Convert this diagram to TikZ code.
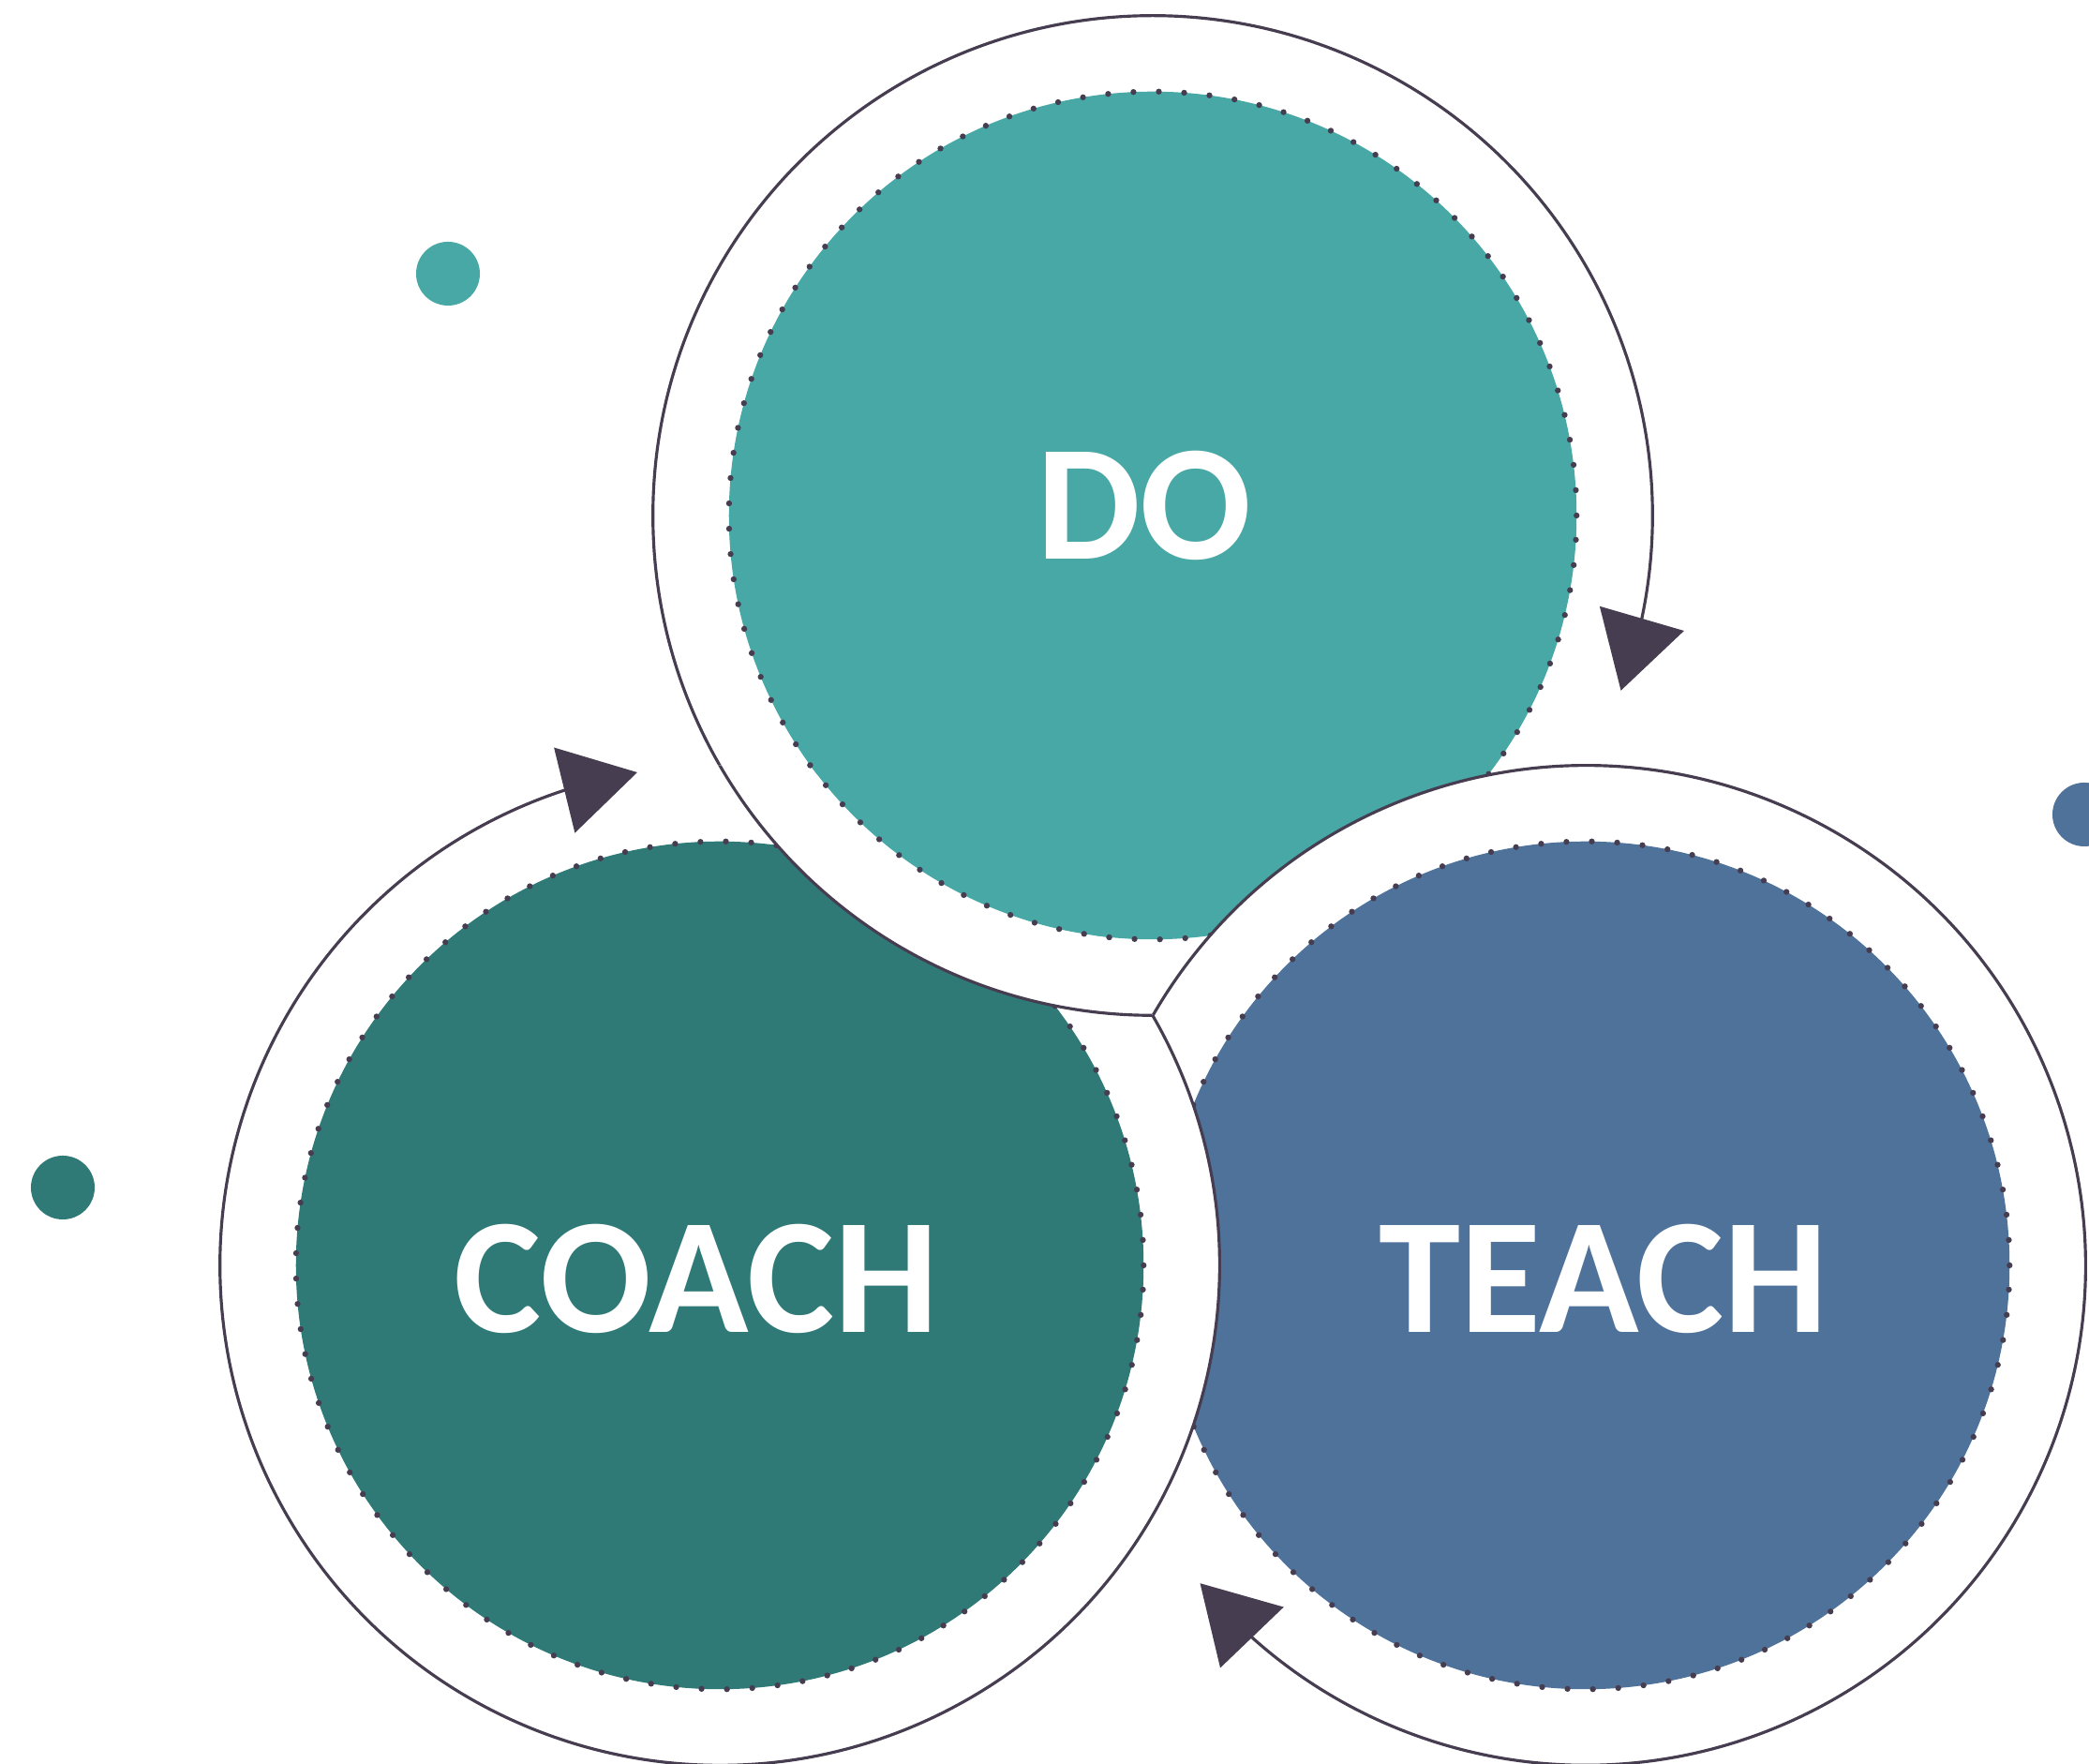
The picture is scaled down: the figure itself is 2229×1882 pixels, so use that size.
\documentclass[tikz,border=0pt]{standalone}
\usepackage{fontspec}
\setmainfont{Carlito}
\usepackage{xcolor}
\usetikzlibrary{arrows.meta,bending,calc}

\definecolor{dofill}{HTML}{48A8A6}
\definecolor{coachfill}{HTML}{2F7A77}
\definecolor{teachfill}{HTML}{4F729A}
\definecolor{edge}{HTML}{473D51}

\begin{document}
\begin{tikzpicture}[
  x=0.01cm, y=0.01cm,
  halo/.style={circle, fill=white, minimum size=10.66cm, inner sep=0pt, outer sep=0pt},
  dots/.style={draw=edge, line width=1.8pt, line cap=round, dash pattern=on 0pt off 7.7pt},
  disc/.style={circle, dots, minimum size=9.04cm, inner sep=0pt, outer sep=0pt},
  word/.style={font=\bfseries\fontsize{50}{50}\selectfont, text=white, inner sep=0pt},
  ringarr/.style={draw=edge, line width=0.9pt, -{Triangle[length=0.8cm, width=0.93cm]}},
  spot/.style={circle, minimum size=0.68cm, inner sep=0pt},
]
  \useasboundingbox (0,0) rectangle (2229,1882);

  % small spots around the cycle
  \node[spot, fill=dofill] (spotA) at (478,1590) {};
  \node[spot, fill=teachfill] (spotB) at (2224,1013) {};
  \node[spot, fill=coachfill] (spotC) at (67,615) {};

  % DO
  \node[halo] (do) at (1230,1332) {};
  \node[disc, fill=dofill] (doIn) at (do) {};
  \node[word] (doTxt) at (1221,1343) {DO};
  \draw[ringarr] (do.270) arc[start angle=270, end angle=-20.5, radius=5.33cm];

  % TEACH
  \node[halo] (teach) at (1692,532) {};
  \node[disc, fill=teachfill] (teachIn) at (teach) {};
  \node[word] (teachTxt) at (1711,518) {TEACH};
  \draw[ringarr] (teach.150) arc[start angle=150, end angle=-140.5, radius=5.33cm];

  % COACH
  \node[halo] (coach) at (768,532) {};
  \node[disc, fill=coachfill] (coachIn) at (coach) {};
  \node[word] (coachTxt) at (743,518) {COACH};
  \draw[ringarr] (coach.30) arc[start angle=30, end angle=-260.5, radius=5.33cm];

  % DO goes back on top of COACH inside their overlap
  \begin{scope}
    \clip (coach) circle[radius=5.33cm];
    \fill[white] (do) circle[radius=5.33cm];
    \draw[edge, line width=0.9pt] (do.270) arc[start angle=270, end angle=150, radius=5.33cm];
  \end{scope}
  \begin{scope}
    % a little wider, so no seam shows in the fill
    \clip (coach) circle[radius=5.45cm];
    \path[dots, fill=dofill] (do) circle[radius=4.52cm];
  \end{scope}
\end{tikzpicture}
\end{document}
